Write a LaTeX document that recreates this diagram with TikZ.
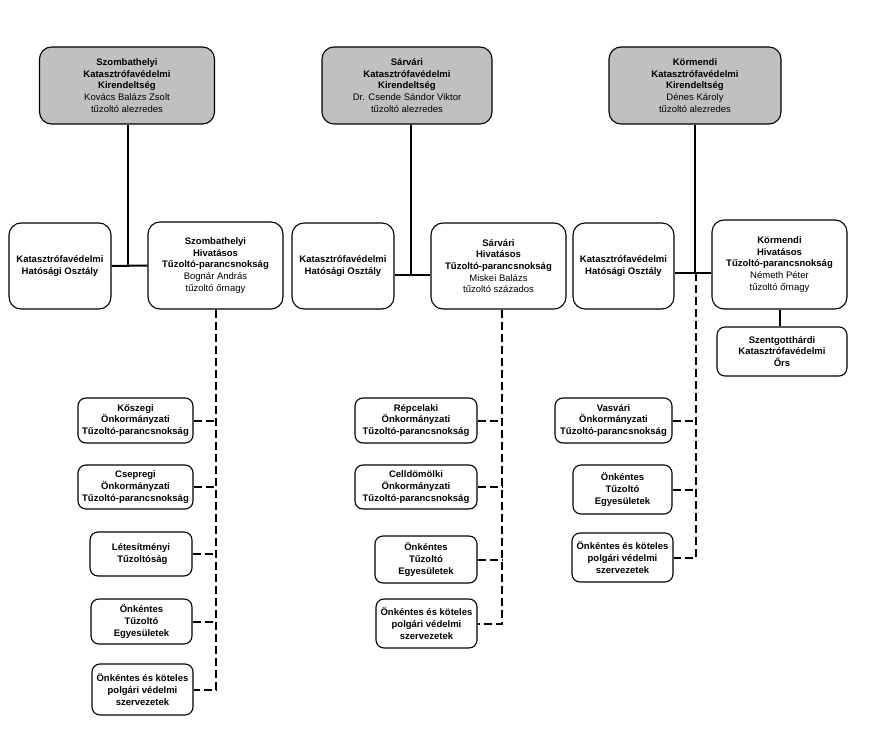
\documentclass[tikz,border=0pt]{standalone}
\usepackage{fontspec}
\setmainfont{Liberation Sans}
\begin{document}
\begin{tikzpicture}[x=1pt,y=-1pt,
  box/.style={draw=black, line width=1.1pt, fill=white, align=center, inner sep=1pt,
    font=\fontsize{9.5}{11.7}\selectfont},
  bigbox/.style={box, rounded corners=12pt},
  smallbox/.style={box, rounded corners=8pt},
  topbox/.style={bigbox, fill=topgray},
  solidline/.style={draw=black, line width=2pt},
  dashline/.style={draw=black, line width=2pt, dash pattern=on 8pt off 4pt}
]
\definecolor{topgray}{RGB}{192,192,192}
\useasboundingbox (0,0) rectangle (873,749);
\fill[white] (0,0) rectangle (873,749);

% top boxes
\node[topbox, minimum width=175pt, minimum height=77pt] (t1) at (127,85.5)
  {\textbf{Szombathelyi}\\\textbf{Katasztrófavédelmi}\\\textbf{Kirendeltség}\\Kovács Balázs Zsolt\\tűzoltó alezredes};
\node[topbox, minimum width=170pt, minimum height=77pt] (t2) at (407,85.5)
  {\textbf{Sárvári}\\\textbf{Katasztrófavédelmi}\\\textbf{Kirendeltség}\\Dr. Csende Sándor Viktor\\tűzoltó alezredes};
\node[topbox, minimum width=172pt, minimum height=77pt] (t3) at (695,85.5)
  {\textbf{Körmendi}\\\textbf{Katasztrófavédelmi}\\\textbf{Kirendeltség}\\Dénes Károly\\tűzoltó alezredes};

% middle row
\node[bigbox, minimum width=102pt, minimum height=86pt] (k1) at (60,266)
  {\textbf{Katasztrófavédelmi}\\\textbf{Hatósági Osztály}};
\node[bigbox, minimum width=135pt, minimum height=87pt] (h1) at (215.5,265.5)
  {\textbf{Szombathelyi}\\\textbf{Hivatásos}\\\textbf{Tűzoltó-parancsnokság}\\Bognár András\\tűzoltó őrnagy};
\node[bigbox, minimum width=102pt, minimum height=86pt] (k2) at (343,266)
  {\textbf{Katasztrófavédelmi}\\\textbf{Hatósági Osztály}};
\node[bigbox, minimum width=135pt, minimum height=86pt] (h2) at (498.5,266)
  {\textbf{Sárvári}\\\textbf{Hivatásos}\\\textbf{Tűzoltó-parancsnokság}\\Miskei Balázs\\tűzoltó százados};
\node[bigbox, minimum width=101pt, minimum height=86pt] (k3) at (623.5,266)
  {\textbf{Katasztrófavédelmi}\\\textbf{Hatósági Osztály}};
\node[bigbox, minimum width=135pt, minimum height=89pt] (h3) at (779.5,264.5)
  {\textbf{Körmendi}\\\textbf{Hivatásos}\\\textbf{Tűzoltó-parancsnokság}\\Németh Péter\\tűzoltó őrnagy};
\node[smallbox, minimum width=130pt, minimum height=49pt] (s3) at (782,351.5)
  {\textbf{Szentgotthárdi}\\\textbf{Katasztrófavédelmi}\\\textbf{Őrs}};

% lower boxes, column 1
\node[smallbox, minimum width=115pt, minimum height=45pt] (a1) at (135.5,420.5)
  {\textbf{Kőszegi}\\\textbf{Önkormányzati}\\\textbf{Tűzoltó-parancsnokság}};
\node[smallbox, minimum width=115pt, minimum height=44pt] (a2) at (135.5,487)
  {\textbf{Csepregi}\\\textbf{Önkormányzati}\\\textbf{Tűzoltó-parancsnokság}};
\node[smallbox, minimum width=102pt, minimum height=44pt] (a3) at (141,554)
  {\textbf{Létesítményi}\\\textbf{\ Tűzoltóság}};
\node[smallbox, minimum width=101pt, minimum height=45pt] (a4) at (141.5,621.5)
  {\textbf{Önkéntes}\\\textbf{Tűzoltó}\\\textbf{Egyesületek}};
\node[smallbox, minimum width=101pt, minimum height=51pt] (a5) at (142.5,689.5)
  {\textbf{Önkéntes és köteles}\\\textbf{polgári védelmi}\\\textbf{szervezetek}};

% column 2
\node[smallbox, minimum width=122pt, minimum height=45pt] (b1) at (416,420.5)
  {\textbf{Répcelaki}\\\textbf{Önkormányzati}\\\textbf{Tűzoltó-parancsnokság}};
\node[smallbox, minimum width=122pt, minimum height=44pt] (b2) at (416,487)
  {\textbf{Celldömölki}\\\textbf{Önkormányzati}\\\textbf{Tűzoltó-parancsnokság}};
\node[smallbox, minimum width=102pt, minimum height=47pt] (b3) at (426,559.5)
  {\textbf{Önkéntes}\\\textbf{Tűzoltó}\\\textbf{Egyesületek}};
\node[smallbox, minimum width=101pt, minimum height=49pt] (b4) at (426.5,623.5)
  {\textbf{Önkéntes és köteles}\\\textbf{polgári védelmi}\\\textbf{szervezetek}};

% column 3
\node[smallbox, minimum width=117pt, minimum height=45pt] (c1) at (613.5,420.5)
  {\textbf{Vasvári}\\\textbf{Önkormányzati}\\\textbf{Tűzoltó-parancsnokság}};
\node[smallbox, minimum width=99pt, minimum height=49pt] (c2) at (622.5,489.5)
  {\textbf{Önkéntes}\\\textbf{Tűzoltó}\\\textbf{Egyesületek}};
\node[smallbox, minimum width=101pt, minimum height=49pt] (c3) at (622.5,557.5)
  {\textbf{Önkéntes és köteles}\\\textbf{polgári védelmi}\\\textbf{szervezetek}};

% junction coordinates
\coordinate (j1) at (128,266);
\coordinate (j2) at (411,275);
\coordinate (j3) at (695,273);
\coordinate (v1) at (216,0);
\coordinate (v2) at (502,0);
\coordinate (v3) at (696,0);

% solid connectors
\draw[solidline] (j1 |- t1.south) -- (j1);
\draw[solidline] (k1.east) -- (h1.west);
\draw[solidline] (j2 |- t2.south) -- (j2);
\draw[solidline] (k2.east |- j2) -- (h2.west |- j2);
\draw[solidline] (j3 |- t3.south) -- (j3);
\draw[solidline] (k3.east |- j3) -- (h3.west |- j3);
\draw[solidline] (s3.north -| 780,0) -- (h3.south -| 780,0);

% dashed connectors column 1
\draw[dashline] (v1 |- h1.south) -- (v1 |- a5.east) -- (a5.east);
\draw[dashline] (a1.east) -- (a1.east -| v1);
\draw[dashline] (a2.east) -- (a2.east -| v1);
\draw[dashline] (a3.east) -- (a3.east -| v1);
\draw[dashline] (a4.east) -- (a4.east -| v1);

% column 2
\draw[dashline] (v2 |- h2.south) -- (v2 |- b4.east) -- (b4.east);
\draw[dashline] (b1.east) -- (b1.east -| v2);
\draw[dashline] (b2.east) -- (b2.east -| v2);
\draw[dashline] (b3.east) -- (b3.east -| v2);

% column 3
\draw[dashline] (v3 |- j3) -- (v3 |- c3.east) -- (c3.east);
\draw[dashline] (c1.east) -- (c1.east -| v3);
\draw[dashline] (c2.east) -- (c2.east -| v3);
\end{tikzpicture}
\end{document}
